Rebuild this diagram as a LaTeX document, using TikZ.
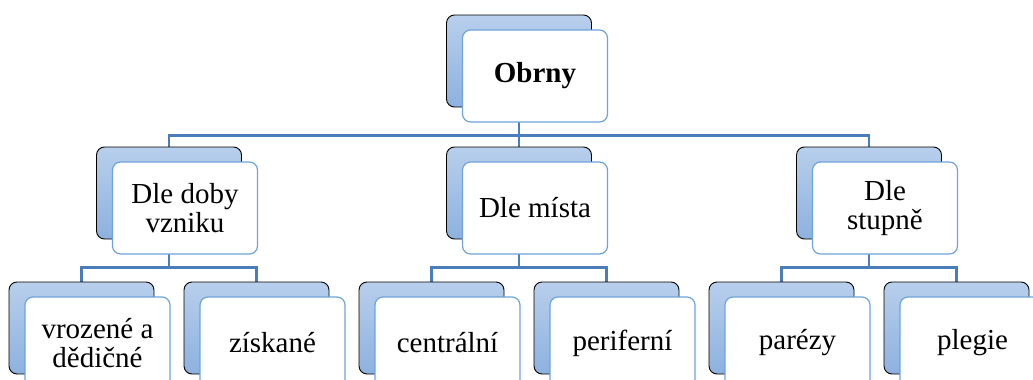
\documentclass[tikz,border=0pt]{standalone}
\usepackage{fontspec}
\setmainfont{Liberation Serif}
\usetikzlibrary{backgrounds}
\definecolor{linkblue}{HTML}{4A7EBB}
\definecolor{frameblue}{HTML}{6FA3DA}
\definecolor{shadetop}{HTML}{B8CFEC}
\definecolor{shadebot}{HTML}{8DB1DF}
\tikzset{
  backbox/.style={rectangle, rounded corners=8pt, minimum width=145pt, minimum height=92pt,
    top color=shadetop, bottom color=shadebot, draw=black, line width=0.9pt, inner sep=0pt},
  frontbox/.style={rectangle, rounded corners=8pt, minimum width=145pt, minimum height=92pt,
    fill=white, draw=frameblue, line width=1.2pt, align=center, inner sep=0pt,
    font=\fontsize{29}{29}\selectfont},
  link/.style={draw=linkblue, line width=2.2pt}
}
\begin{document}
\begin{tikzpicture}[x=1pt, y=-1pt]
\useasboundingbox (0,0) rectangle (1033,380);
\clip (0,0) rectangle (1033,380);
% root
\node[backbox] (rootb) at (519,61) {};
\node[frontbox, font=\fontsize{29}{29}\selectfont\bfseries] (root) at (535,76) {Obrny};
% second level
\node[backbox] (ab) at (169,193) {};
\node[frontbox] (a) at (185,208) {Dle doby\\vzniku};
\node[backbox] (bb) at (519,193) {};
\node[frontbox] (b) at (535,208) {Dle místa};
\node[backbox] (cb) at (869,193) {};
\node[frontbox] (c) at (885,208) {Dle\\stupně};
% third level
\node[backbox] (a1b) at (81.5,328) {};
\node[frontbox] (a1) at (97.5,343) {vrozené a\\dědičné};
\node[backbox] (a2b) at (256.5,328) {};
\node[frontbox] (a2) at (272.5,343) {získané};
\node[backbox] (b1b) at (431.5,328) {};
\node[frontbox] (b1) at (447.5,343) {centrální};
\node[backbox] (b2b) at (606.5,328) {};
\node[frontbox] (b2) at (622.5,343) {periferní};
\node[backbox] (c1b) at (781.5,328) {};
\node[frontbox] (c1) at (797.5,343) {parézy};
\node[backbox] (c2b) at (956.5,328) {};
\node[frontbox] (c2) at (972.5,343) {plegie};
% connectors
\begin{scope}[on background layer]
  \foreach \p/\c in {rootb/ab, rootb/bb, rootb/cb, ab/a1b, ab/a2b, bb/b1b, bb/b2b, cb/c1b, cb/c2b}
    \draw[link] (\p.south) -- ++(0,28) -| (\c.north);
\end{scope}
\end{tikzpicture}
\end{document}
